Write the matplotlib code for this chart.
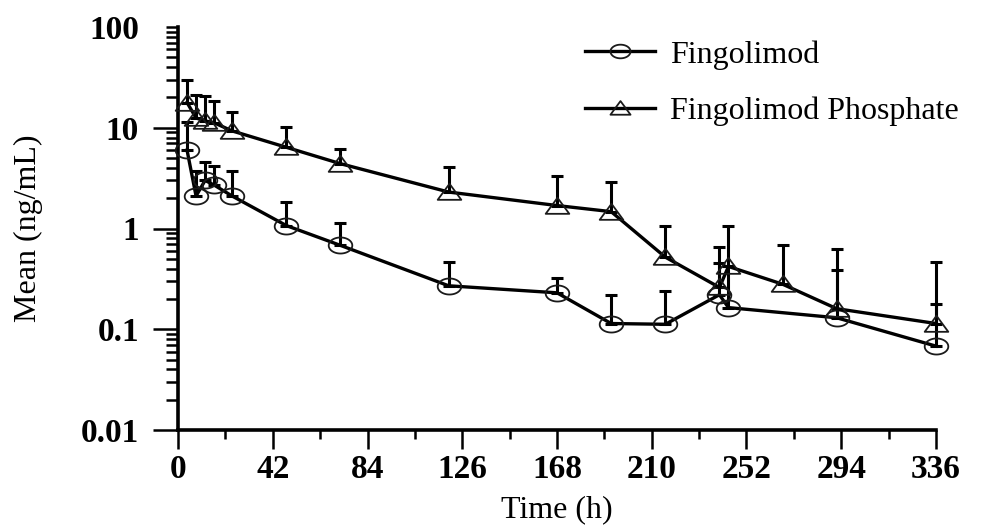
import numpy as np
import matplotlib
matplotlib.use("Agg")
import matplotlib.pyplot as plt
from matplotlib.path import Path
from matplotlib.ticker import FixedLocator, FixedFormatter, MultipleLocator

# ---- data ----
t_fin = [4, 8, 12, 16, 24, 48, 72, 120, 168, 192, 216, 240, 244, 292, 336]
mean_fin = [6.0, 2.1, 3.0, 2.7, 2.1, 1.07, 0.68, 0.27, 0.23, 0.114, 0.112, 0.22, 0.164, 0.13, 0.068]
sd_fin = [5.5, 1.6, 1.6, 1.5, 1.6, 0.78, 0.45, 0.20, 0.09, 0.106, 0.128, 0.23, 0.256, 0.26, 0.112]

t_phos = [4, 8, 12, 16, 24, 48, 72, 120, 168, 192, 216, 240, 244, 268, 292, 336]
mean_phos = [17.8, 12.5, 11.7, 11.2, 9.3, 6.4, 4.4, 2.3, 1.69, 1.47, 0.52, 0.26, 0.42, 0.28, 0.16, 0.114]
sd_phos = [12.2, 8.5, 9.0, 7.3, 5.1, 3.8, 1.8, 1.8, 1.66, 1.43, 0.55, 0.39, 0.63, 0.41, 0.47, 0.356]

x_ticks = [0, 42, 84, 126, 168, 210, 252, 294, 336]
y_ticks = [0.01, 0.1, 1, 10, 100]
y_tick_labels = ["0.01", "0.1", "1", "10", "100"]
labels = ["Fingolimod", "Fingolimod Phosphate"]

# ---- style ----
plt.rcParams['font.family'] = ['Liberation Serif', 'DejaVu Serif']

th = np.linspace(0, 2 * np.pi, 60)
ellipse = Path(np.column_stack([np.cos(th), 0.68 * np.sin(th)]), closed=True)
triangle = Path([(-1, -0.62), (1, -0.62), (0, 0.74), (-1, -0.62)], closed=True)

fig = plt.figure(figsize=(9.95, 5.28), dpi=100)
ax = fig.add_axes([178 / 995, 1 - 430 / 528, 758 / 995, 403 / 528])

for t, m, s, mk, lab in [(t_fin, mean_fin, sd_fin, ellipse, labels[0]),
                         (t_phos, mean_phos, sd_phos, triangle, labels[1])]:
    eb = ax.errorbar(t, m, yerr=[np.zeros(len(s)), s], fmt='none', ecolor='black',
                     elinewidth=2.2, capsize=4.3, capthick=2.2, zorder=2)
    for art in eb.lines[1] + eb.lines[2]:
        art.set_clip_on(False)
    ax.plot(t, m, color='black', lw=2.4, marker=mk, markersize=17,
            markerfacecolor='none', markeredgecolor='#1a1a1a', markeredgewidth=1.3,
            label=lab, zorder=3, clip_on=False)

ax.set_yscale('log')
ax.set_ylim(0.01, 100)
ax.set_xlim(0, 336)

ax.xaxis.set_major_locator(FixedLocator(x_ticks))
ax.xaxis.set_minor_locator(MultipleLocator(21))
ax.yaxis.set_major_locator(FixedLocator(y_ticks))
ax.yaxis.set_major_formatter(FixedFormatter(y_tick_labels))
ax.yaxis.set_minor_locator(matplotlib.ticker.LogLocator(base=10, subs=np.arange(2, 10)))
ax.yaxis.set_minor_formatter(matplotlib.ticker.NullFormatter())

for side in ['top', 'right']:
    ax.spines[side].set_visible(False)
for side in ['left', 'bottom']:
    ax.spines[side].set_linewidth(2.6)

ax.tick_params(axis='x', which='major', direction='out', length=14, width=1.8, pad=3,
               labelsize=24)
ax.tick_params(axis='x', which='minor', direction='out', length=6.5, width=1.8)
ax.tick_params(axis='y', which='major', direction='out', length=18, width=1.8, pad=10,
               labelsize=24)
ax.tick_params(axis='y', which='minor', direction='out', length=8.5, width=1.8)
for lbl in ax.get_xticklabels() + ax.get_yticklabels():
    lbl.set_fontweight('bold')
ax.yaxis.get_major_ticks()[-1].tick1line.set_markersize(8.5)

ax.set_xlabel("Time (h)", fontsize=23)
ax.set_ylabel("Mean (ng/mL)", fontsize=23)
ax.xaxis.set_label_coords(0.5, -0.163)
ax.yaxis.set_label_coords(-0.178, 0.5)

leg = ax.legend(loc='upper left', bbox_to_anchor=(585 / 995, 1 - 40 / 528),
                bbox_transform=fig.transFigure, frameon=False, fontsize=23,
                handlelength=2.2, handletextpad=0.45, labelspacing=0.85,
                markerscale=0.85, borderaxespad=0, borderpad=0)

fig.savefig("out.png", dpi=100)
